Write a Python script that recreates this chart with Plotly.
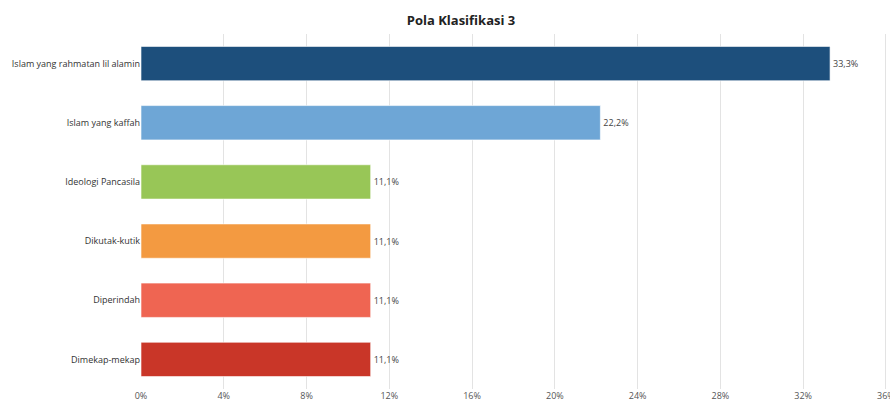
import plotly.graph_objects as go

categories = ["Islam yang rahmatan lil alamin", "Islam yang kaffah", "Ideologi Pancasila",
              "Dikutak-kutik", "Diperindah", "Dimekap-mekap"]
values = [33.3, 22.2, 11.1, 11.1, 11.1, 11.1]
labels = ["33,3%", "22,2%", "11,1%", "11,1%", "11,1%", "11,1%"]
colors = ["#1d4f7c", "#6ea6d6", "#98c657", "#f39a41", "#ef6552", "#c93628"]
tick_vals = [0, 4, 8, 12, 16, 20, 24, 28, 32, 36]
tick_text = ["0%", "4%", "8%", "12%", "16%", "20%", "24%", "28%", "32%", "36%"]

fig = go.Figure(go.Bar(
    y=categories, x=values, orientation="h",
    marker=dict(color=colors, line=dict(color="rgba(255,255,255,0.6)", width=1)),
    text=labels, textposition="outside", cliponaxis=False,
    textfont=dict(family="Open Sans", size=9, color="#444"),
    width=0.58,
))

fig.update_layout(
    width=890, height=403,
    margin=dict(l=141, r=2, t=34, b=14, autoexpand=False),
    paper_bgcolor="white", plot_bgcolor="white",
    title=dict(text="<b>Pola Klasifikasi 3</b>", x=0.518, xanchor="center", y=0.95, yanchor="middle",
               font=dict(family="Open Sans", size=13, color="#222")),
    showlegend=False,
    font=dict(family="Open Sans", size=9, color="#444"),
)
fig.update_xaxes(range=[0, 36.1], tickvals=tick_vals, ticktext=tick_text,
                 showgrid=True, gridcolor="#e3e3e3", gridwidth=1, zeroline=False,
                 showline=False, ticks="", ticklabeloverflow="allow", automargin=False,
                 tickfont=dict(size=9, color="#555"))
fig.update_yaxes(categoryorder="array", categoryarray=categories, autorange="reversed",
                 ticks="", showline=False, automargin=False, tickfont=dict(size=9, color="#333"))

fig.write_html("out.html")
